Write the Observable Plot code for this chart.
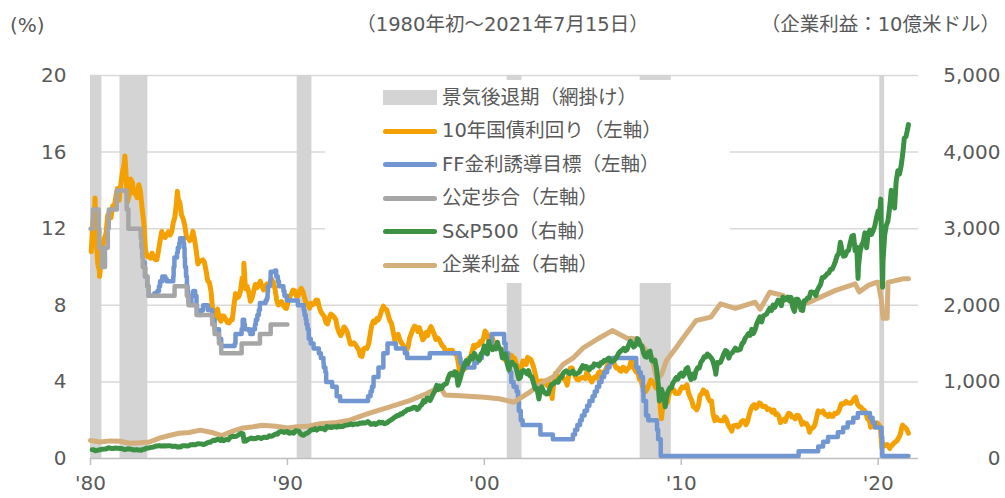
<!DOCTYPE html>
<html><head><meta charset="utf-8">
<script src="https://cdn.jsdelivr.net/npm/d3@7"></script>
<script src="https://cdn.jsdelivr.net/npm/@observablehq/plot@0.6"></script>
<style>
body{margin:0;background:#fff;font-family:"DejaVu Sans","Noto Sans CJK JP",sans-serif;color:#595959;}
#wrap{position:relative;width:1005px;height:498px;overflow:hidden;background:#fff}
#head{position:relative;height:50px}
#head div{position:absolute;top:13px;line-height:24px;white-space:nowrap}
#legend{position:absolute;left:325px;top:80px;width:405px;height:203px;background:#fff}
.row{position:absolute;left:0;width:405px;height:33.5px}
.sw{position:absolute;left:58px;width:54px}
.lb{position:absolute;left:117px;top:0;line-height:33.5px;font-size:19.5px;white-space:nowrap}
</style></head><body>
<div id="wrap">
  <div id="head">
    <div style="left:10px;font-size:20px">(%)</div>
    <div style="left:0;width:1005px;text-align:center;font-size:19.5px">（1980年初～2021年7月15日）</div>
    <div style="right:5px;font-size:19.5px">（企業利益：10億米ドル）</div>
  </div>
  <div id="chart"></div>
  <div id="legend"></div>
</div>
<script>
// ---------- data ----------
const leftTicks = [0, 4, 8, 12, 16, 20];
const rightTickLabels = ["0", "1,000", "2,000", "3,000", "4,000", "5,000"];
const xTickYears = [1980, 1990, 2000, 2010, 2020];
const xTickLabels = ["'80", "'90", "'00", "'10", "'20"];

const recessions = [
  ["1980-01-01", "1980-07-31"], ["1981-07-01", "1982-11-30"], ["1990-07-01", "1991-03-31"],
  ["2001-03-01", "2001-11-30"], ["2007-12-01", "2009-06-30"], ["2020-02-01", "2020-04-30"]
];

// 10-year Treasury yield, monthly from 1980-01 (%)
const tnxStart = 1980;
const tnxMonthly = [
  10.80,12.41,12.75,11.47,10.18,9.78,10.25,11.10,11.51,11.75,12.68,12.84,
  12.57,13.19,13.12,13.68,14.10,13.47,14.28,14.94,15.32,15.15,13.39,13.72,
  14.59,14.43,13.86,13.87,13.62,14.30,13.95,13.06,12.34,10.91,10.55,10.54,
  10.46,10.72,10.51,10.40,10.38,10.85,11.38,11.85,11.65,11.54,11.69,11.83,
  11.67,11.84,12.32,12.63,13.41,13.56,13.36,12.72,12.52,12.16,11.57,11.50,
  11.38,11.51,11.86,11.43,10.85,10.16,10.31,10.33,10.37,10.24,9.78,9.26,
  9.19,8.70,7.78,7.30,7.71,7.80,7.30,7.17,7.45,7.43,7.25,7.11,
  7.08,7.25,7.25,8.02,8.61,8.40,8.45,8.76,9.42,9.52,8.86,8.99,
  8.67,8.21,8.37,8.72,9.09,8.92,9.06,9.26,8.98,8.80,8.96,9.11,
  9.09,9.17,9.36,9.18,8.86,8.28,8.02,8.11,8.19,8.01,7.87,7.84,
  8.21,8.47,8.59,8.79,8.76,8.48,8.47,8.75,8.89,8.72,8.39,8.08,
  8.09,7.85,8.11,8.04,8.07,8.28,8.27,7.90,7.65,7.53,7.42,7.09,
  7.03,7.34,7.54,7.48,7.39,7.26,6.84,6.59,6.42,6.59,6.87,6.77,
  6.60,6.26,5.98,5.97,6.04,5.96,5.81,5.68,5.36,5.33,5.72,5.77,
  5.75,5.97,6.48,6.97,7.18,7.10,7.30,7.24,7.46,7.74,7.96,7.81,
  7.78,7.47,7.20,7.06,6.63,6.17,6.28,6.49,6.20,6.04,5.93,5.71,
  5.65,5.81,6.27,6.51,6.74,6.91,6.87,6.64,6.83,6.53,6.20,6.30,
  6.58,6.42,6.69,6.89,6.71,6.49,6.22,6.30,6.21,6.03,5.88,5.81,
  5.54,5.57,5.65,5.64,5.65,5.50,5.46,5.34,4.81,4.53,4.83,4.65,
  4.72,5.00,5.23,5.18,5.54,5.90,5.79,5.94,5.92,6.11,6.03,6.28,
  6.66,6.52,6.26,5.99,6.44,6.10,6.05,5.83,5.80,5.74,5.72,5.24,
  5.16,5.10,4.89,5.14,5.39,5.28,5.24,4.97,4.73,4.57,4.65,5.09,
  5.04,4.91,5.28,5.21,5.16,4.93,4.65,4.26,3.87,3.94,4.05,4.03,
  4.05,3.90,3.81,3.96,3.57,3.33,3.98,4.45,4.27,4.29,4.30,4.27,
  4.15,4.08,3.83,4.35,4.72,4.73,4.50,4.28,4.13,4.10,4.19,4.23,
  4.22,4.17,4.50,4.34,4.14,4.00,4.18,4.26,4.20,4.46,4.54,4.47,
  4.42,4.57,4.72,4.99,5.11,5.11,5.09,4.88,4.72,4.73,4.60,4.56,
  4.76,4.72,4.56,4.69,4.75,5.10,5.00,4.67,4.52,4.53,4.15,4.10,
  3.74,3.74,3.51,3.68,3.88,4.10,4.01,3.89,3.69,3.81,3.53,2.42,
  2.52,2.87,2.82,2.93,3.29,3.72,3.56,3.59,3.40,3.39,3.40,3.59,
  3.73,3.69,3.73,3.85,3.42,3.20,3.01,2.70,2.65,2.54,2.76,3.29,
  3.39,3.58,3.41,3.46,3.17,3.00,3.00,2.30,1.98,2.15,2.01,1.98,
  1.97,1.97,2.17,2.05,1.80,1.62,1.53,1.68,1.72,1.75,1.65,1.72,
  1.91,1.98,1.96,1.76,1.93,2.30,2.58,2.74,2.81,2.62,2.72,2.90,
  2.86,2.71,2.72,2.71,2.56,2.60,2.54,2.42,2.53,2.30,2.33,2.21,
  1.88,1.98,2.04,1.94,2.20,2.36,2.32,2.17,2.17,2.07,2.26,2.24,
  2.09,1.78,1.89,1.81,1.81,1.64,1.50,1.56,1.63,1.76,2.14,2.49,
  2.43,2.42,2.48,2.30,2.30,2.19,2.32,2.21,2.20,2.36,2.35,2.40,
  2.58,2.86,2.84,2.87,2.98,2.91,2.89,2.89,3.00,3.15,3.12,2.83,
  2.71,2.68,2.57,2.53,2.40,2.07,2.06,1.63,1.70,1.71,1.81,1.86,
  1.76,1.50,0.87,0.66,0.67,0.73,0.62,0.65,0.68,0.79,0.87,0.93,
  1.08,1.26,1.61,1.64,1.62,1.52,1.32
];
const tnxDaily = [
  ["1980-03-25", 13.6], ["1980-06-16", 9.5], ["1981-09-30", 15.8], ["1984-05-30", 13.95],
  ["1987-10-16", 10.2], ["1998-10-05", 4.2], ["2003-06-13", 3.13], ["2008-12-30", 2.08],
  ["2012-07-25", 1.43], ["2016-07-08", 1.37], ["2018-11-08", 3.2], ["2020-03-09", 0.54],
  ["2020-08-04", 0.52], ["2021-03-31", 1.74]
];

// Fed funds target (%), date of change
const ffTarget = [
  ["1982-09-27",10.25],["1982-10-01",10],["1982-10-07",9.5],["1982-11-19",9],["1982-12-14",8.5],
  ["1983-03-31",8.625],["1983-05-25",8.75],["1983-06-24",9],["1983-07-14",9.25],["1983-08-25",9.5],
  ["1983-10-20",9.375],["1983-11-15",9.25],["1984-03-15",9.5],["1984-03-22",10],["1984-04-05",10.5],
  ["1984-05-24",10.75],["1984-06-07",11],["1984-07-05",11.25],["1984-07-19",11.5],["1984-09-20",11.25],
  ["1984-10-02",11],["1984-10-11",10.5],["1984-10-18",10],["1984-11-07",9.5],["1984-11-23",9],
  ["1984-12-06",8.75],["1984-12-18",8.5],["1984-12-24",8.125],["1985-02-14",8.5],["1985-03-21",8.75],
  ["1985-04-25",8.5],["1985-05-20",8],["1985-05-30",7.75],["1985-06-25",7.5],["1985-08-21",7.75],
  ["1985-09-20",8],["1985-12-18",7.75],["1986-03-07",7.25],["1986-04-21",6.75],["1986-07-11",6.25],
  ["1986-08-21",5.875],["1987-04-30",6],["1987-05-14",6.5],["1987-09-04",6.75],["1987-09-24",7.25],
  ["1987-10-22",7],["1987-11-04",6.75],["1988-01-28",6.625],["1988-02-11",6.5],["1988-03-30",6.75],
  ["1988-05-09",7],["1988-05-25",7.25],["1988-06-22",7.5],["1988-07-19",7.75],["1988-08-08",8.125],
  ["1988-11-22",8.25],["1988-12-15",8.375],["1988-12-29",8.6875],["1989-01-05",9],["1989-02-09",9.0625],
  ["1989-02-14",9.3125],["1989-02-23",9.5625],["1989-02-24",9.75],["1989-05-17",9.8125],["1989-06-06",9.5625],
  ["1989-06-07",9.5],["1989-07-07",9.25],["1989-07-27",9],["1989-10-18",8.75],["1989-11-06",8.5],
  ["1989-12-20",8.25],["1990-07-13",8],["1990-10-29",7.75],["1990-11-13",7.5],["1990-12-07",7.25],
  ["1990-12-19",7],["1991-01-09",6.75],["1991-02-01",6.25],["1991-03-08",6],["1991-04-30",5.75],
  ["1991-08-06",5.5],["1991-09-13",5.25],["1991-10-31",5],["1991-11-06",4.75],["1991-12-06",4.5],
  ["1991-12-20",4],["1992-04-09",3.75],["1992-07-02",3.25],["1992-09-04",3],["1994-02-04",3.25],
  ["1994-03-22",3.5],["1994-04-18",3.75],["1994-05-17",4.25],["1994-08-16",4.75],["1994-11-15",5.5],
  ["1995-02-01",6],["1995-07-06",5.75],["1995-12-19",5.5],["1996-01-31",5.25],["1997-03-25",5.5],
  ["1998-09-29",5.25],["1998-10-15",5],["1998-11-17",4.75],["1999-06-30",5],["1999-08-24",5.25],
  ["1999-11-16",5.5],["2000-02-02",5.75],["2000-03-21",6],["2000-05-16",6.5],["2001-01-03",6],
  ["2001-01-31",5.5],["2001-03-20",5],["2001-04-18",4.5],["2001-05-15",4],["2001-06-27",3.75],
  ["2001-08-21",3.5],["2001-09-17",3],["2001-10-02",2.5],["2001-11-06",2],["2001-12-11",1.75],
  ["2002-11-06",1.25],["2003-06-25",1],["2004-06-30",1.25],["2004-08-10",1.5],["2004-09-21",1.75],
  ["2004-11-10",2],["2004-12-14",2.25],["2005-02-02",2.5],["2005-03-22",2.75],["2005-05-03",3],
  ["2005-06-30",3.25],["2005-08-09",3.5],["2005-09-20",3.75],["2005-11-01",4],["2005-12-13",4.25],
  ["2006-01-31",4.5],["2006-03-28",4.75],["2006-05-10",5],["2006-06-29",5.25],["2007-09-18",4.75],
  ["2007-10-31",4.5],["2007-12-11",4.25],["2008-01-22",3.5],["2008-01-30",3],["2008-03-18",2.25],
  ["2008-04-30",2],["2008-10-08",1.5],["2008-10-29",1],["2008-12-16",0.125],["2015-12-17",0.375],
  ["2016-12-15",0.625],["2017-03-16",0.875],["2017-06-15",1.125],["2017-12-14",1.375],["2018-03-22",1.625],
  ["2018-06-14",1.875],["2018-09-27",2.125],["2018-12-20",2.375],["2019-08-01",2.125],["2019-09-19",1.875],
  ["2019-10-31",1.625],["2020-03-04",1.125],["2020-03-16",0.125],["2021-07-15",0.125]
];

// Discount rate (%), date of change
const discountRate = [
  ["1980-01-01",12],["1980-02-15",13],["1980-05-30",12],["1980-06-13",11],["1980-07-28",10],
  ["1980-09-26",11],["1980-11-17",12],["1980-12-05",13],["1981-05-05",14],["1981-11-02",13],
  ["1981-12-04",12],["1982-07-20",11.5],["1982-08-02",11],["1982-08-16",10.5],["1982-08-27",10],
  ["1982-10-12",9.5],["1982-11-22",9],["1982-12-14",8.5],["1984-04-09",9],["1984-11-21",8.5],
  ["1984-12-24",8],["1985-05-20",7.5],["1986-03-07",7],["1986-04-21",6.5],["1986-07-11",6],
  ["1986-08-21",5.5],["1987-09-04",6],["1988-08-09",6.5],["1989-02-24",7],["1989-12-31",7]
];

// S&P 500, month-end close from 1980-01
const spxStart = 1980;
const spxMonthly = [
  114.2,113.7,102.1,106.3,111.2,114.2,121.7,122.4,125.5,127.5,140.5,135.8,
  129.6,131.3,136.0,132.8,132.6,131.2,130.9,122.8,116.2,121.9,126.4,122.6,
  120.4,113.1,112.0,116.4,111.9,109.6,107.1,119.5,120.4,133.7,138.5,140.6,
  145.3,148.1,153.0,164.4,162.4,168.1,162.6,164.4,166.1,163.6,166.4,164.9,
  163.4,157.1,159.2,160.1,150.6,153.2,150.7,166.7,166.1,166.1,163.6,167.2,
  179.6,181.2,180.7,179.8,189.6,191.9,190.9,188.6,182.1,189.8,202.2,211.3,
  211.8,226.9,238.9,235.5,247.4,250.8,236.1,252.9,231.3,244.0,249.2,242.2,
  274.1,284.2,291.7,288.4,290.1,304.0,318.7,329.8,321.8,251.8,230.3,247.1,
  257.1,267.8,258.9,261.3,262.2,273.5,272.0,261.5,271.9,279.0,273.7,277.7,
  297.5,288.9,294.9,309.6,320.5,318.0,346.1,351.5,349.2,340.4,346.0,353.4,
  329.1,331.9,339.9,330.8,361.2,358.0,356.2,322.6,306.1,304.0,322.2,330.2,
  343.9,367.1,375.2,375.3,389.8,371.2,387.8,395.4,387.9,392.5,375.2,417.1,
  408.8,412.7,403.7,415.0,415.4,408.1,424.2,414.0,417.8,418.7,431.4,435.7,
  438.8,443.4,451.7,440.2,450.2,450.5,448.1,463.6,458.9,467.8,461.8,466.5,
  481.6,467.1,445.8,450.9,456.5,444.3,458.3,475.5,462.7,472.4,453.7,459.3,
  470.4,487.4,500.7,514.7,533.4,544.8,562.1,561.9,584.4,581.5,605.4,615.9,
  636.0,640.4,645.5,654.2,669.1,670.6,640.0,652.0,687.3,705.3,757.0,740.7,
  786.2,791.0,757.1,801.3,848.3,885.1,954.3,899.5,947.3,914.6,955.4,970.4,
  980.3,1049.3,1101.8,1111.8,1090.8,1133.8,1120.7,957.3,1017.0,1098.7,1163.6,1229.2,
  1279.6,1238.3,1286.4,1335.2,1301.8,1372.7,1328.7,1320.4,1282.7,1362.9,1388.9,1469.3,
  1394.5,1366.4,1498.6,1452.4,1420.6,1454.6,1430.8,1517.7,1436.5,1429.4,1315.2,1320.3,
  1366.0,1239.9,1160.3,1249.5,1255.8,1224.4,1211.2,1133.6,1040.9,1059.8,1139.5,1148.1,
  1130.2,1106.7,1147.4,1076.9,1067.1,989.8,911.6,916.1,815.3,885.8,936.3,879.8,
  855.7,841.2,848.2,916.9,963.6,974.5,990.3,1008.0,996.0,1050.7,1058.2,1111.9,
  1131.1,1144.9,1126.2,1107.3,1120.7,1140.8,1101.7,1104.2,1114.6,1130.2,1173.8,1211.9,
  1181.3,1203.6,1180.6,1156.9,1191.5,1191.3,1234.2,1220.3,1228.8,1207.0,1249.5,1248.3,
  1280.1,1280.7,1294.9,1310.6,1270.1,1270.2,1276.7,1303.8,1335.9,1377.9,1400.6,1418.3,
  1438.2,1406.8,1420.9,1482.4,1530.6,1503.4,1455.3,1474.0,1526.8,1549.4,1481.1,1468.4,
  1378.6,1330.6,1322.7,1385.6,1400.4,1280.0,1267.4,1282.8,1166.4,968.8,896.2,903.3,
  825.9,735.1,797.9,872.8,919.1,919.3,987.5,1020.6,1057.1,1036.2,1095.6,1115.1,
  1073.9,1104.5,1169.4,1186.7,1089.4,1030.7,1101.6,1049.3,1141.2,1183.3,1180.6,1257.6,
  1286.1,1327.2,1325.8,1363.6,1345.2,1320.6,1292.3,1218.9,1131.4,1253.3,1247.0,1257.6,
  1312.4,1365.7,1408.5,1397.9,1310.3,1362.2,1379.3,1406.6,1440.7,1412.2,1416.2,1426.2,
  1498.1,1514.7,1569.2,1597.6,1630.7,1606.3,1685.7,1633.0,1681.6,1756.5,1805.8,1848.4,
  1782.6,1859.5,1872.3,1884.0,1923.6,1960.2,1930.7,2003.4,1972.3,2018.1,2067.6,2058.9,
  1995.0,2104.5,2067.9,2085.5,2107.4,2063.1,2103.8,1972.2,1920.0,2079.4,2080.4,2043.9,
  1940.2,1932.2,2059.7,2065.3,2097.0,2098.9,2173.6,2171.0,2168.3,2126.2,2198.8,2238.8,
  2278.9,2363.6,2362.7,2384.2,2411.8,2423.4,2470.3,2471.7,2519.4,2575.3,2647.6,2673.6,
  2823.8,2713.8,2640.9,2648.1,2705.3,2718.4,2816.3,2901.5,2914.0,2711.7,2760.2,2506.9,
  2704.1,2784.5,2834.4,2945.8,2752.1,2941.8,2980.4,2926.5,2976.7,3037.6,3141.0,3230.8,
  3225.5,2954.2,2584.6,2912.4,3044.3,3100.3,3271.1,3500.3,3363.0,3270.0,3621.6,3756.1,
  3714.2,3811.2,3972.9,4181.2,4204.1,4297.5
];
const spxDaily = [
  ["1987-10-19",225],["2000-03-24",1527],["2002-10-09",777],["2007-10-09",1565],["2008-11-20",752],
  ["2009-03-09",677],["2011-10-03",1099],["2018-12-24",2351],["2020-02-19",3386],["2020-03-23",2237],
  ["2021-07-15",4360]
];

// Corporate profits (billion USD)
const profits = [
  ["1980-01-01",235],["1980-07-01",215],["1981-01-01",230],["1981-07-01",225],["1982-01-01",200],
  ["1982-07-01",205],["1983-01-01",215],["1983-07-01",265],["1984-01-01",300],["1984-07-01",330],
  ["1985-01-01",340],["1985-08-01",370],["1986-03-01",340],["1986-09-01",300],["1987-03-01",350],
  ["1987-09-01",395],["1988-03-01",410],["1988-10-01",435],["1989-06-01",420],["1990-01-01",400],
  ["1990-07-01",415],["1991-01-01",420],["1991-09-01",455],["1992-07-01",470],["1993-03-01",500],
  ["1994-02-01",585],["1995-03-01",670],["1996-04-01",760],["1997-02-01",848],["1997-10-01",935],
  ["1998-01-01",830],["1999-01-01",815],["2000-01-01",800],["2000-10-01",780],["2001-07-01",735],
  ["2002-05-01",870],["2003-01-01",1000],["2003-07-01",1064],["2004-01-01",1230],["2004-07-01",1310],
  ["2005-01-01",1440],["2005-10-01",1560],["2006-07-01",1670],["2007-04-01",1570],["2007-10-01",1560],
  ["2008-04-01",1400],["2008-07-01",1330],["2008-10-01",1030],["2009-01-01",1100],["2009-04-01",1280],
  ["2009-10-01",1450],["2010-01-01",1540],["2010-10-01",1800],["2011-07-01",1845],["2012-01-01",2020],
  ["2012-10-01",1960],["2013-10-01",2040],["2014-01-01",1950],["2014-07-01",2170],["2015-03-01",2130],
  ["2015-11-01",1980],["2016-07-01",2040],["2017-11-01",2195],["2018-11-01",2280],["2019-01-15",2175],
  ["2019-07-01",2260],["2019-12-01",2300],["2020-01-01",2300],["2020-03-01",2065],["2020-04-01",1830],
  ["2020-06-15",1830],["2020-07-01",2300],["2021-04-01",2345],["2021-07-15",2345]
];

const legendItems = [
  {label: "景気後退期（網掛け）", color: "#d4d4d4", kind: "rect"},
  {label: "10年国債利回り（左軸）", color: "#f4a000", kind: "line"},
  {label: "FF金利誘導目標（左軸）", color: "#7196d1", kind: "line"},
  {label: "公定歩合（左軸）", color: "#a6a6a6", kind: "line"},
  {label: "S&P500（右軸）", color: "#3c9145", kind: "line"},
  {label: "企業利益（右軸）", color: "#d4ae7b", kind: "line"}
];

// ---------- build tables ----------
const d = s => new Date(s + "T00:00:00Z");
const tnx = tnxMonthly.map((v, i) => ({date: new Date(Date.UTC(tnxStart + Math.floor(i / 12), i % 12, 15)), v}))
  .concat(tnxDaily.map(([s, v]) => ({date: d(s), v})))
  .sort((a, b) => a.date - b.date);
const spx = spxMonthly.map((v, i) => ({date: new Date(Date.UTC(spxStart + Math.floor(i / 12), (i % 12) + 1, 0)), v}))
  .concat(spxDaily.map(([s, v]) => ({date: d(s), v})))
  .sort((a, b) => a.date - b.date);
const ff = ffTarget.map(([s, v]) => ({date: d(s), v}));
const disc = discountRate.map(([s, v]) => ({date: d(s), v}));
const prof = profits.map(([s, v]) => ({date: d(s), v}));
const rec = recessions.map(([a, b]) => ({a: d(a), b: d(b)}));
const RATIO = 250; // right axis / left axis

const plot = Plot.plot({
  width: 1005, height: 448,
  marginTop: 25, marginBottom: 40, marginLeft: 90, marginRight: 87,
  style: {fontFamily: "DejaVu Sans, sans-serif", fontSize: "20px", color: "#595959", background: "#fff"},
  x: {type: "utc", domain: [d("1980-01-01"), d("2022-01-18")], axis: null},
  y: {domain: [0, 20], axis: null},
  marks: [
    Plot.ruleY(leftTicks.filter(t => t > 0), {stroke: "#d9d9d9", strokeWidth: 1.5}),
    Plot.rect(rec, {x1: "a", x2: "b", fill: "#d4d4d4"}),
    Plot.ruleY([0], {stroke: "#bfbfbf", strokeWidth: 1.5}),
    Plot.axisX(xTickYears.map(y => new Date(Date.UTC(y, 0, 1))), {
      tickSize: 7, tickPadding: 10, stroke: "#bfbfbf", strokeWidth: 1.5,
      tickFormat: (t) => xTickLabels[xTickYears.indexOf(t.getUTCFullYear())], fontSize: 20
    }),
    Plot.text(leftTicks, {y: t => t, text: t => String(t), frameAnchor: "left", dx: -24, textAnchor: "end", fontSize: 20, fill: "#595959"}),
    Plot.text(leftTicks, {y: t => t, text: (t, i) => rightTickLabels[i], frameAnchor: "right", dx: 82, textAnchor: "end", fontSize: 20, fill: "#595959"}),
    Plot.line(tnx, {x: "date", y: "v", stroke: "#f4a000", strokeWidth: 5, strokeLinejoin: "round"}),
    Plot.line(ff, {x: "date", y: "v", stroke: "#7196d1", strokeWidth: 4.5, curve: "step-after"}),
    Plot.line(disc, {x: "date", y: "v", stroke: "#a6a6a6", strokeWidth: 4.5, curve: "step-after"}),
    Plot.line(prof, {x: "date", y: p => p.v / RATIO, stroke: "#d4ae7b", strokeWidth: 5, strokeLinejoin: "round"}),
    Plot.line(spx, {x: "date", y: p => p.v / RATIO, stroke: "#3c9145", strokeWidth: 5, strokeLinejoin: "round"})
  ]
});
document.getElementById("chart").appendChild(plot);

// legend
const lg = document.getElementById("legend");
legendItems.forEach((it, i) => {
  const row = document.createElement("div");
  row.className = "row";
  row.style.top = (0.5 + i * 33.5) + "px";
  const sw = document.createElement("div");
  sw.className = "sw";
  sw.style.background = it.color;
  if (it.kind === "rect") { sw.style.height = "15px"; sw.style.top = "9.5px"; }
  else { sw.style.height = "5px"; sw.style.top = "14.5px"; sw.style.borderRadius = "3px"; }
  const lb = document.createElement("div");
  lb.className = "lb";
  lb.textContent = it.label;
  row.appendChild(sw); row.appendChild(lb);
  lg.appendChild(row);
});
</script>
</body></html>
